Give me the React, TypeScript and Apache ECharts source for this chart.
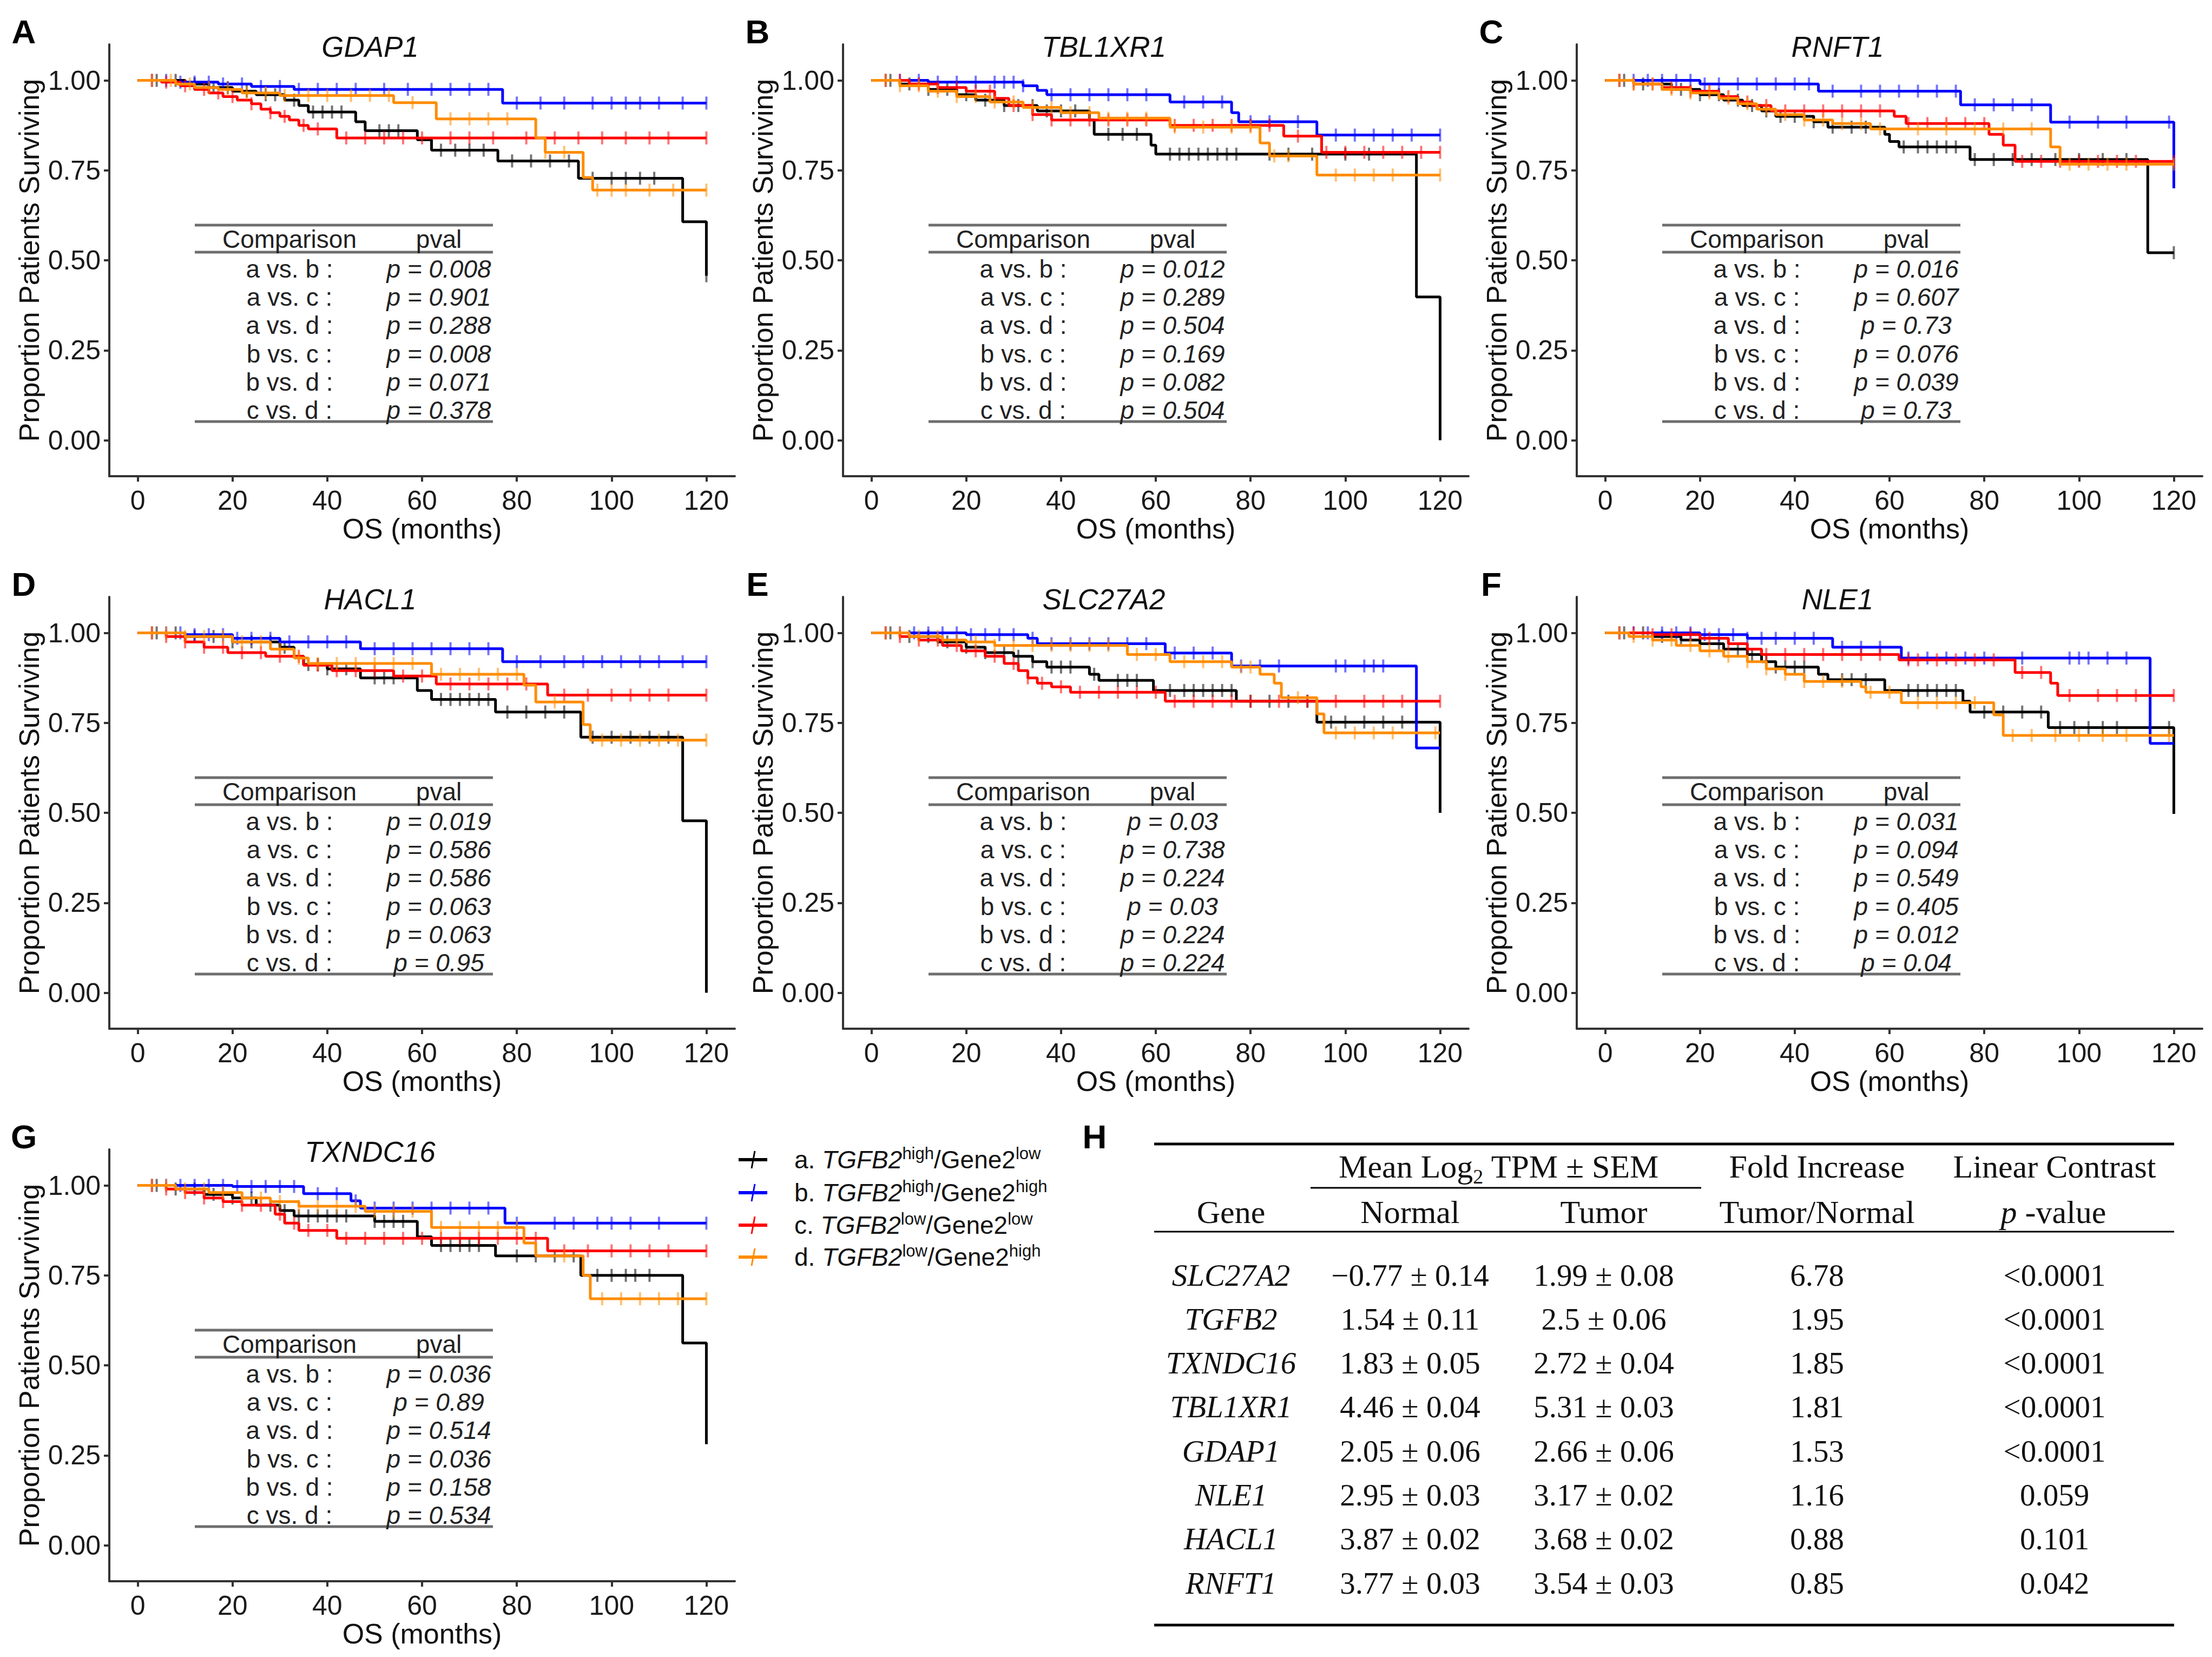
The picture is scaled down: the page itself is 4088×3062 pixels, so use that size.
import React, { useEffect, useRef } from "react";
import * as echarts from "echarts";

const W = 4088;
const H = 3062;
const FONT = "'Liberation Sans', Arial, Helvetica, sans-serif";
const SERIF = "'Liberation Serif', 'Times New Roman', serif";

const GROUP_COLORS = ["#000000", "#0000FF", "#FF0000", "#FF8C00"];
const X_TICKS = [0, 20, 40, 60, 80, 100, 120];
const Y_TICKS = [0, 0.25, 0.5, 0.75, 1];

const PANEL_LABELS = ["A", "B", "C", "D", "E", "F", "G"];
const PANEL_GENES = ["GDAP1", "TBL1XR1", "RNFT1", "HACL1", "SLC27A2", "NLE1", "TXNDC16"];
const COMPARISONS = ["a vs. b :", "a vs. c :", "a vs. d :", "b vs. c :", "b vs. d :", "c vs. d :"];

// Kaplan-Meier step points [month, survival] per group a,b,c,d
const STEPS_GDAP1 = {
  a: [[0, 1], [10, 0.99], [15, 0.98], [20, 0.97], [25, 0.96], [31, 0.945], [34, 0.93], [36, 0.912], [46, 0.885], [48, 0.86], [59, 0.835], [62, 0.806], [76, 0.776], [93, 0.728], [115, 0.607], [120, 0.457]],
  b: [[0, 1], [8, 0.995], [17, 0.99], [24, 0.983], [33, 0.975], [77, 0.937], [120, 0.937]],
  c: [[0, 1], [5, 0.995], [9, 0.985], [12, 0.975], [15, 0.965], [18, 0.955], [21, 0.945], [24, 0.935], [26, 0.92], [28, 0.91], [30, 0.9], [32, 0.89], [34, 0.875], [36, 0.865], [42, 0.84], [120, 0.84]],
  d: [[0, 1], [8, 0.99], [12, 0.98], [17, 0.975], [22, 0.965], [30, 0.958], [54, 0.938], [63, 0.893], [84, 0.84], [86, 0.8], [94, 0.73], [96, 0.695], [120, 0.695]],
};
const STEPS_TBL1XR1 = {
  a: [[0, 1], [6, 0.99], [12, 0.975], [18, 0.96], [22, 0.945], [28, 0.93], [35, 0.915], [46, 0.89], [47, 0.85], [59, 0.82], [60, 0.795], [115, 0.398], [120, 0]],
  b: [[0, 1], [12, 0.995], [32, 0.985], [35, 0.972], [37, 0.96], [63, 0.94], [76, 0.91], [77.5, 0.885], [94, 0.848], [120, 0.848]],
  c: [[0, 1], [8, 0.99], [14, 0.98], [20, 0.97], [26, 0.95], [29, 0.93], [34, 0.905], [38, 0.89], [63, 0.875], [87, 0.845], [95, 0.8], [120, 0.8]],
  d: [[0, 1], [6, 0.985], [12, 0.97], [18, 0.955], [25, 0.94], [32, 0.925], [40, 0.91], [48, 0.895], [63, 0.87], [82, 0.826], [84, 0.79], [94, 0.737], [120, 0.737]],
};
const STEPS_RNFT1 = {
  a: [[0, 1], [8, 0.99], [14, 0.975], [20, 0.96], [25, 0.945], [29, 0.93], [33, 0.915], [36, 0.9], [44, 0.885], [47, 0.87], [59, 0.85], [60, 0.83], [62, 0.815], [77, 0.78], [114.5, 0.521], [120, 0.521]],
  b: [[0, 1], [20, 0.99], [45, 0.97], [75, 0.932], [94, 0.884], [120, 0.7]],
  c: [[0, 1], [6, 0.99], [12, 0.98], [18, 0.97], [24, 0.955], [28, 0.94], [31, 0.93], [35, 0.915], [61, 0.9], [63.5, 0.88], [81, 0.85], [84, 0.82], [86.5, 0.775], [120, 0.775]],
  d: [[0, 1], [6, 0.99], [12, 0.975], [18, 0.965], [24, 0.95], [28, 0.935], [32, 0.92], [36, 0.905], [42, 0.89], [48, 0.88], [56, 0.865], [94, 0.815], [96, 0.767], [120, 0.767]],
};
const STEPS_HACL1 = {
  a: [[0, 1], [10, 0.99], [20, 0.975], [30, 0.96], [33, 0.935], [35, 0.912], [40, 0.9], [47, 0.875], [59, 0.84], [62, 0.815], [75.5, 0.78], [93.5, 0.71], [115, 0.478], [120, 0]],
  b: [[0, 1], [10, 0.995], [20, 0.985], [30, 0.975], [47, 0.956], [77, 0.92], [120, 0.92]],
  c: [[0, 1], [6, 0.99], [10, 0.975], [14, 0.96], [19, 0.945], [27, 0.935], [35, 0.91], [41, 0.895], [54, 0.88], [63, 0.858], [86.5, 0.827], [120, 0.827]],
  d: [[0, 1], [10, 0.99], [20, 0.975], [28, 0.955], [33, 0.93], [36, 0.915], [62, 0.885], [81.5, 0.855], [84, 0.808], [94, 0.745], [95.5, 0.702], [120, 0.702]],
};
const STEPS_SLC27A2 = {
  a: [[0, 1], [8, 0.99], [14, 0.975], [20, 0.96], [24, 0.945], [30, 0.935], [34, 0.92], [37, 0.905], [46, 0.885], [48, 0.868], [59.5, 0.84], [77, 0.81], [94, 0.752], [120, 0.5]],
  b: [[0, 1], [20, 0.995], [33, 0.985], [35, 0.97], [62, 0.944], [76, 0.908], [115, 0.68], [120, 0.68]],
  c: [[0, 1], [6, 0.99], [10, 0.98], [15, 0.965], [19, 0.95], [24, 0.935], [28, 0.915], [31, 0.895], [33, 0.875], [35, 0.86], [38, 0.85], [42, 0.835], [62, 0.81], [120, 0.81]],
  d: [[0, 1], [8, 0.99], [15, 0.98], [20, 0.975], [26, 0.965], [54, 0.94], [63, 0.92], [76, 0.905], [82, 0.885], [85, 0.86], [86.5, 0.82], [94, 0.775], [95.5, 0.722], [120, 0.722]],
};
const STEPS_NLE1 = {
  a: [[0, 1], [10, 0.99], [16, 0.98], [20, 0.97], [25, 0.955], [30, 0.94], [33, 0.92], [36, 0.905], [45, 0.885], [47, 0.87], [59, 0.84], [75.5, 0.81], [77, 0.78], [93.5, 0.737], [120, 0.497]],
  b: [[0, 1], [20, 0.995], [30, 0.985], [48, 0.96], [62.5, 0.93], [115, 0.693], [120, 0.693]],
  c: [[0, 1], [10, 0.995], [20, 0.985], [26, 0.97], [30, 0.955], [33, 0.94], [62, 0.925], [86.5, 0.89], [94, 0.86], [95.5, 0.826], [120, 0.826]],
  d: [[0, 1], [5, 0.99], [10, 0.98], [15, 0.965], [20, 0.95], [25, 0.935], [30, 0.92], [34, 0.9], [38, 0.885], [42, 0.865], [54, 0.85], [55, 0.835], [62.5, 0.806], [82, 0.772], [84, 0.715], [120, 0.715]],
};
const STEPS_TXNDC16 = {
  a: [[0, 1], [8, 0.99], [14, 0.975], [20, 0.965], [25, 0.945], [30, 0.93], [33, 0.915], [50, 0.9], [59, 0.857], [62, 0.833], [75.5, 0.804], [93.5, 0.75], [115, 0.562], [120, 0.281]],
  b: [[0, 1], [20, 0.997], [35, 0.977], [45, 0.957], [47, 0.937], [77.5, 0.895], [120, 0.895]],
  c: [[0, 1], [6, 0.99], [10, 0.98], [14, 0.965], [18, 0.955], [22, 0.945], [29, 0.92], [31, 0.895], [34, 0.875], [42, 0.853], [86.5, 0.818], [120, 0.818]],
  d: [[0, 1], [8, 0.99], [15, 0.98], [22, 0.965], [28, 0.955], [34, 0.942], [48, 0.928], [62, 0.883], [81.5, 0.84], [84, 0.804], [94, 0.75], [95.5, 0.685], [120, 0.685]],
};

// Censoring times (months) per group
const CENS_GDAP1 = {
  a: [4, 8, 12, 16, 19, 23, 27, 29, 33, 37, 39, 41, 43, 51, 53, 55, 64, 67, 70, 73, 79, 83, 87, 91, 96, 100, 103, 106, 109, 120],
  b: [3, 6, 9, 12, 15, 18, 22, 26, 30, 34, 38, 42, 46, 52, 57, 62, 66, 70, 74, 80, 85, 90, 96, 100, 103, 106, 110, 115, 120],
  c: [3, 6, 10, 14, 17, 20, 24, 28, 31, 35, 38, 44, 48, 52, 56, 60, 66, 70, 75, 82, 88, 93, 98, 103, 108, 112, 120],
  d: [3, 7, 11, 15, 19, 23, 27, 31, 36, 40, 45, 49, 53, 58, 66, 70, 74, 78, 86, 90, 97, 100, 103, 108, 113, 120],
};
const CENS_TBL1XR1 = {
  a: [4, 8, 12, 16, 20, 24, 28, 31, 34, 37, 40, 43, 50, 53, 56, 63, 65, 67, 69, 71, 73, 75, 77, 84, 88, 93, 100, 105],
  b: [3, 6, 10, 14, 18, 22, 26, 28, 30, 32, 38, 42, 46, 50, 54, 58, 66, 70, 74, 80, 84, 90, 98, 102, 106, 110, 114, 120],
  c: [3, 6, 10, 14, 18, 22, 25, 30, 34, 38, 42, 46, 50, 54, 58, 64, 68, 72, 76, 80, 84, 90, 96, 100, 104, 108, 112, 116, 120],
  d: [3, 6, 10, 14, 18, 22, 26, 30, 34, 38, 42, 46, 50, 54, 58, 64, 70, 76, 80, 85, 88, 98, 102, 106, 110, 120],
};
const CENS_RNFT1 = {
  a: [4, 8, 12, 16, 20, 24, 28, 31, 34, 37, 40, 44, 48, 52, 55, 63, 66, 68, 70, 72, 74, 78, 82, 86, 90, 95, 100, 105, 110, 120],
  b: [3, 6, 9, 12, 15, 18, 21, 24, 28, 32, 36, 40, 43, 48, 54, 58, 62, 66, 70, 74, 78, 82, 86, 90, 98, 104, 110, 119],
  c: [3, 6, 10, 14, 18, 22, 26, 30, 34, 38, 42, 46, 50, 54, 58, 64, 68, 72, 76, 80, 88, 92, 96, 100, 104, 108, 112, 120],
  d: [3, 6, 10, 14, 18, 22, 26, 30, 34, 38, 42, 46, 50, 54, 58, 66, 72, 78, 84, 90, 98, 102, 106, 110, 120],
};
const CENS_HACL1 = {
  a: [4, 8, 12, 16, 20, 24, 28, 31, 36, 38, 40, 44, 50, 52, 54, 64, 66, 68, 70, 72, 74, 78, 82, 86, 90, 96, 100, 104, 108, 112],
  b: [3, 6, 9, 12, 15, 18, 21, 24, 28, 32, 36, 40, 44, 50, 54, 58, 62, 66, 70, 74, 80, 85, 90, 94, 98, 102, 106, 110, 115, 120],
  c: [3, 6, 10, 14, 18, 22, 26, 30, 34, 38, 42, 46, 50, 56, 60, 66, 70, 74, 78, 82, 90, 95, 100, 104, 108, 112, 120],
  d: [3, 6, 10, 14, 18, 22, 26, 30, 34, 38, 42, 46, 50, 54, 58, 64, 68, 72, 76, 80, 88, 98, 102, 106, 110, 114, 120],
};
const CENS_SLC27A2 = {
  a: [4, 8, 12, 16, 20, 24, 28, 31, 34, 38, 40, 42, 47, 52, 54, 56, 63, 66, 68, 70, 72, 74, 76, 80, 84, 88, 92, 97, 100, 104, 108, 112],
  b: [3, 6, 9, 12, 15, 18, 21, 24, 27, 30, 34, 38, 42, 46, 50, 54, 58, 64, 68, 72, 78, 82, 86, 98, 100, 104, 106, 108],
  c: [3, 6, 10, 14, 18, 22, 26, 30, 33, 36, 40, 44, 48, 52, 56, 60, 64, 68, 72, 76, 80, 86, 92, 98, 104, 108, 112, 120],
  d: [3, 6, 10, 14, 18, 22, 26, 30, 34, 38, 42, 46, 50, 56, 60, 66, 70, 74, 78, 80, 90, 98, 102, 106, 110, 119],
};
const CENS_NLE1 = {
  a: [4, 8, 12, 16, 20, 24, 28, 31, 34, 36, 38, 40, 42, 50, 52, 55, 64, 66, 68, 70, 72, 74, 80, 84, 88, 92, 96, 99, 102, 105, 108, 119],
  b: [3, 6, 9, 12, 15, 18, 21, 24, 27, 30, 33, 36, 40, 44, 50, 54, 58, 64, 68, 72, 76, 80, 88, 98, 100, 102, 106, 110],
  c: [3, 6, 10, 14, 18, 22, 26, 30, 34, 38, 42, 46, 50, 54, 58, 64, 66, 70, 74, 78, 82, 88, 92, 98, 104, 108, 112, 120],
  d: [3, 6, 10, 14, 18, 22, 26, 30, 34, 38, 42, 46, 50, 56, 60, 66, 70, 74, 78, 86, 90, 95, 100, 105, 110, 119],
};
const CENS_TXNDC16 = {
  a: [4, 8, 12, 16, 20, 24, 28, 31, 34, 36, 38, 40, 42, 44, 50, 52, 54, 56, 64, 66, 68, 70, 72, 80, 84, 88, 92, 97, 100, 103, 105, 108],
  b: [3, 6, 9, 12, 15, 18, 21, 24, 27, 30, 33, 38, 42, 46, 50, 54, 58, 62, 66, 70, 74, 80, 88, 92, 97, 100, 104, 110, 120],
  c: [3, 6, 10, 14, 18, 22, 26, 30, 33, 36, 40, 44, 48, 52, 56, 60, 64, 68, 72, 76, 80, 84, 90, 95, 100, 104, 108, 112, 120],
  d: [3, 6, 10, 14, 18, 22, 26, 30, 34, 38, 42, 46, 50, 54, 58, 64, 68, 72, 76, 80, 90, 98, 102, 106, 110, 114, 120],
};

const PVALS_GDAP1 = ["0.008", "0.901", "0.288", "0.008", "0.071", "0.378"];
const PVALS_TBL1XR1 = ["0.012", "0.289", "0.504", "0.169", "0.082", "0.504"];
const PVALS_RNFT1 = ["0.016", "0.607", "0.73", "0.076", "0.039", "0.73"];
const PVALS_HACL1 = ["0.019", "0.586", "0.586", "0.063", "0.063", "0.95"];
const PVALS_SLC27A2 = ["0.03", "0.738", "0.224", "0.03", "0.224", "0.224"];
const PVALS_NLE1 = ["0.031", "0.094", "0.549", "0.405", "0.012", "0.04"];
const PVALS_TXNDC16 = ["0.036", "0.89", "0.514", "0.036", "0.158", "0.534"];

const STEPS = [STEPS_GDAP1, STEPS_TBL1XR1, STEPS_RNFT1, STEPS_HACL1, STEPS_SLC27A2, STEPS_NLE1, STEPS_TXNDC16];
const CENS = [CENS_GDAP1, CENS_TBL1XR1, CENS_RNFT1, CENS_HACL1, CENS_SLC27A2, CENS_NLE1, CENS_TXNDC16];
const PVALS = [PVALS_GDAP1, PVALS_TBL1XR1, PVALS_RNFT1, PVALS_HACL1, PVALS_SLC27A2, PVALS_NLE1, PVALS_TXNDC16];

// Legend
const LEGEND_PREFIX = ["a. ", "b. ", "c. ", "d. "];
const LEGEND_TGFB2 = ["high", "high", "low", "low"];
const LEGEND_GENE2 = ["low", "high", "low", "high"];

// Table H
const H_GENES = ["SLC27A2", "TGFB2", "TXNDC16", "TBL1XR1", "GDAP1", "NLE1", "HACL1", "RNFT1"];
const H_NORMAL = ["\u22120.77 \u00b1 0.14", "1.54 \u00b1 0.11", "1.83 \u00b1 0.05", "4.46 \u00b1 0.04", "2.05 \u00b1 0.06", "2.95 \u00b1 0.03", "3.87 \u00b1 0.02", "3.77 \u00b1 0.03"];
const H_TUMOR = ["1.99 \u00b1 0.08", "2.5 \u00b1 0.06", "2.72 \u00b1 0.04", "5.31 \u00b1 0.03", "2.66 \u00b1 0.06", "3.17 \u00b1 0.02", "3.68 \u00b1 0.02", "3.54 \u00b1 0.03"];
const H_FOLD = ["6.78", "1.95", "1.85", "1.81", "1.53", "1.16", "0.88", "0.85"];
const H_PVAL = ["<0.0001", "<0.0001", "<0.0001", "<0.0001", "<0.0001", "0.059", "0.101", "0.042"];

// Layout
const COL_LEFT = [202, 1558, 2914];
const ROW_TOP = [82, 1103, 2124];
const GRID_W = 1156;
const GRID_H = 798;

function survAt(steps: number[][], t: number) {
  let v = 1;
  for (const [x, y] of steps) {
    if (x <= t) v = y;
    else break;
  }
  return v;
}

function txt(x: number, y: number, text: string, extra: any = {}) {
  return {
    type: "text",
    x,
    y,
    z: 50,
    silent: true,
    style: {
      text,
      fontFamily: FONT,
      fontSize: 45,
      fill: "#111",
      align: "center",
      verticalAlign: "middle",
      ...extra,
    },
  };
}

function hline(x1: number, x2: number, y: number, width: number, color: string) {
  return {
    type: "line",
    z: 50,
    silent: true,
    shape: { x1, y1: y, x2, y2: y },
    style: { stroke: color, lineWidth: width },
  };
}

function buildOption() {
  const grids: any[] = [];
  const xAxes: any[] = [];
  const yAxes: any[] = [];
  const series: any[] = [];
  const graphic: any[] = [];
  const groups = ["a", "b", "c", "d"];

  PANEL_GENES.forEach((gene, i) => {
    const col = i % 3;
    const row = Math.floor(i / 3);
    const gl = COL_LEFT[col];
    const gt = ROW_TOP[row];
    grids.push({ left: gl, top: gt, width: GRID_W, height: GRID_H, containLabel: false });
    xAxes.push({
      type: "value",
      gridIndex: i,
      min: -6,
      max: 126,
      name: "OS (months)",
      nameLocation: "middle",
      nameGap: 70,
      nameTextStyle: { fontSize: 52, color: "#111", fontFamily: FONT },
      axisLine: { show: true, onZero: false, lineStyle: { color: "#333", width: 4 } },
      axisTick: { show: true, length: 10, customValues: X_TICKS, lineStyle: { color: "#333", width: 4 } },
      axisLabel: { customValues: X_TICKS, fontSize: 50, color: "#1a1a1a", margin: 20, fontFamily: FONT },
      splitLine: { show: false },
    });
    yAxes.push({
      type: "value",
      gridIndex: i,
      min: -0.1,
      max: 1.1,
      name: "Proportion Patients Surviving",
      nameLocation: "middle",
      nameGap: 122,
      nameTextStyle: { fontSize: 52, color: "#111", fontFamily: FONT },
      axisLine: { show: true, onZero: false, lineStyle: { color: "#333", width: 4 } },
      axisTick: { show: true, length: 10, customValues: Y_TICKS, lineStyle: { color: "#333", width: 4 } },
      axisLabel: {
        customValues: Y_TICKS,
        fontSize: 50,
        color: "#1a1a1a",
        margin: 16,
        fontFamily: FONT,
        formatter: (v: number) => v.toFixed(2),
      },
      splitLine: { show: false },
    });

    groups.forEach((g, gi) => {
      const steps = (STEPS[i] as any)[g] as number[][];
      const cens = (CENS[i] as any)[g] as number[];
      series.push({
        type: "line",
        xAxisIndex: i,
        yAxisIndex: i,
        data: steps,
        step: "end",
        showSymbol: false,
        symbol: "none",
        silent: true,
        z: 2 + gi,
        lineStyle: { color: GROUP_COLORS[gi], width: 5 },
        itemStyle: { color: GROUP_COLORS[gi] },
      });
      series.push({
        type: "scatter",
        xAxisIndex: i,
        yAxisIndex: i,
        data: cens.map((t) => [t, survAt(steps, t)]),
        symbol: "rect",
        symbolSize: [4, 24],
        silent: true,
        z: 2 + gi,
        itemStyle: { color: GROUP_COLORS[gi], opacity: 0.55 },
      });
    });

    // panel letter and title
    graphic.push(txt(gl - 158, gt - 24, PANEL_LABELS[i], { fontSize: 62, fontWeight: "bold", fill: "#000" }));
    graphic.push(txt(gl + 482, gt + 4, gene, { fontSize: 53, fontStyle: "italic", fill: "#111" }));

    // p-value table
    const tx1 = gl + 158;
    const tx2 = gl + 709;
    graphic.push(hline(tx1, tx2, gt + 334, 5, "#6e6e6e"));
    graphic.push(hline(tx1, tx2, gt + 384, 5, "#6e6e6e"));
    graphic.push(hline(tx1, tx2, gt + 697, 5, "#6e6e6e"));
    graphic.push(txt(gl + 333, gt + 360, "Comparison", { fontSize: 46, fill: "#222" }));
    graphic.push(txt(gl + 609, gt + 360, "pval", { fontSize: 46, fill: "#222" }));
    COMPARISONS.forEach((c, k) => {
      const y = gt + 415 + k * 52.2;
      graphic.push(txt(gl + 333, y, c, { fontSize: 46, fill: "#222" }));
      graphic.push(txt(gl + 609, y, "p = " + PVALS[i][k], { fontSize: 46, fontStyle: "italic", fill: "#222" }));
    });
  });

  // Legend
  const legendY = [2143, 2204, 2264, 2323];
  legendY.forEach((y, k) => {
    graphic.push({
      type: "line",
      z: 50,
      silent: true,
      shape: { x1: 1365, y1: y, x2: 1418, y2: y },
      style: { stroke: GROUP_COLORS[k], lineWidth: 6 },
    });
    graphic.push({
      type: "line",
      z: 50,
      silent: true,
      shape: { x1: 1389, y1: y + 16, x2: 1395, y2: y - 16 },
      style: { stroke: GROUP_COLORS[k], lineWidth: 3 },
    });
    graphic.push({
      type: "text",
      x: 1468,
      y,
      z: 50,
      silent: true,
      style: {
        text: `{n|${LEGEND_PREFIX[k]}}{i|TGFB2}{s|${LEGEND_TGFB2[k]}}{n|/Gene2}{s|${LEGEND_GENE2[k]}}`,
        align: "left",
        verticalAlign: "middle",
        fontFamily: FONT,
        fontSize: 46,
        fill: "#111",
        rich: {
          n: { fontFamily: FONT, fontSize: 46, lineHeight: 54, fill: "#111" },
          i: { fontFamily: FONT, fontSize: 46, lineHeight: 54, fontStyle: "italic", fill: "#111" },
          s: { fontFamily: FONT, fontSize: 31, lineHeight: 31, verticalAlign: "top", fill: "#111" },
        },
      },
    });
  });

  // Table H
  graphic.push(txt(2023, 2100, "H", { fontSize: 62, fontWeight: "bold", fill: "#000" }));
  const TX1 = 2133;
  const TX2 = 4018;
  graphic.push(hline(TX1, TX2, 2114, 5, "#000"));
  graphic.push(hline(2422, 3144, 2195, 3, "#000"));
  graphic.push(hline(TX1, TX2, 2276, 3, "#000"));
  graphic.push(hline(TX1, TX2, 3003, 5, "#000"));
  const HS = { fontFamily: SERIF, fontSize: 60, fill: "#111" };
  const DS = { fontFamily: SERIF, fontSize: 57, fill: "#111" };
  graphic.push({
    type: "text",
    x: 2770,
    y: 2156,
    z: 50,
    silent: true,
    style: {
      text: "{n|Mean Log}{b|2}{n| TPM \u00b1 SEM}",
      align: "center",
      verticalAlign: "middle",
      ...HS,
      rich: {
        n: { ...HS, lineHeight: 74 },
        b: { fontFamily: SERIF, fontSize: 38, lineHeight: 38, verticalAlign: "bottom", fill: "#111" },
      },
    },
  });
  graphic.push(txt(3358, 2156, "Fold Increase", HS));
  graphic.push(txt(3797, 2156, "Linear Contrast", HS));
  graphic.push(txt(2275, 2240, "Gene", HS));
  graphic.push(txt(2606, 2240, "Normal", HS));
  graphic.push(txt(2964, 2240, "Tumor", HS));
  graphic.push(txt(3358, 2240, "Tumor/Normal", HS));
  graphic.push({
    type: "text",
    x: 3795,
    y: 2240,
    z: 50,
    silent: true,
    style: {
      text: "{i|p}{n| -value}",
      align: "center",
      verticalAlign: "middle",
      ...HS,
      rich: {
        i: { ...HS, fontStyle: "italic" },
        n: { ...HS },
      },
    },
  });
  H_GENES.forEach((g, k) => {
    const y = 2356 + k * 81.3;
    graphic.push(txt(2275, y, g, { ...DS, fontStyle: "italic" }));
    graphic.push(txt(2606, y, H_NORMAL[k], DS));
    graphic.push(txt(2964, y, H_TUMOR[k], DS));
    graphic.push(txt(3358, y, H_FOLD[k], DS));
    graphic.push(txt(3797, y, H_PVAL[k], DS));
  });

  return {
    animation: false,
    backgroundColor: "#ffffff",
    textStyle: { fontFamily: FONT },
    grid: grids,
    xAxis: xAxes,
    yAxis: yAxes,
    series,
    graphic: { elements: graphic },
  };
}

export default function App() {
  const ref = useRef<HTMLDivElement>(null);
  useEffect(() => {
    if (!ref.current) return;
    const chart = echarts.init(ref.current, null, { renderer: "svg", width: W, height: H });
    chart.setOption(buildOption() as any);
    return () => chart.dispose();
  }, []);
  return (
    <div
      ref={ref}
      style={{ position: "absolute", left: 0, top: 0, width: W, height: H, background: "#fff" }}
    />
  );
}
